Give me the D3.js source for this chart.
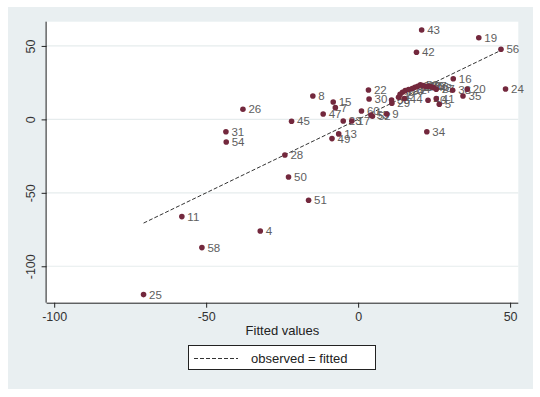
<!DOCTYPE html>
<html>
<head>
<meta charset="utf-8">
<script src="https://cdn.jsdelivr.net/npm/d3@7"></script>
<style>
  body { margin: 0; background: #fff; }
  svg text { font-family: "Liberation Sans", Arial, sans-serif; }
</style>
</head>
<body>
<svg width="540" height="397"></svg>
<script>
// observation ids, fitted values (x) and observed values (y)
var ids = ["25", "11", "58", "31", "54", "26", "4", "28", "50", "45",
  "51", "8", "47", "49", "15", "7", "13", "23", "17", "60",
  "22", "30", "52", "55", "9", "33", "29", "44", "1", "2",
  "6", "10", "12", "14", "18", "21", "53", "32", "36", "37",
  "46", "48", "34", "40", "41", "5", "27", "38", "16", "35",
  "20", "42", "43", "19", "56", "24"];
var fitted = [-70.6, -58.0, -51.4, -43.5, -43.4, -37.9, -32.2, -24.1, -22.9, -21.9,
  -16.3, -14.9, -11.5, -8.6, -8.2, -7.5, -6.4, -4.9, -2.1, 1.1,
  3.4, 3.6, 4.7, 4.2, 9.4, 11.0, 11.1, 15.2, 13.3, 13.8,
  14.6, 15.5, 16.6, 17.8, 18.7, 19.6, 20.5, 21.3, 22.2, 23.1,
  24.0, 24.9, 22.6, 23.0, 25.7, 26.7, 25.7, 31.1, 31.3, 34.5,
  35.9, 19.2, 20.9, 39.7, 47.0, 48.5];
var observed = [-119.3, -66.2, -87.3, -8.4, -15.4, 6.9, -76.0, -24.2, -39.2, -1.3,
  -55.1, 15.9, 3.7, -13.1, 11.8, 8.0, -9.9, -1.1, -1.1, 5.7,
  20.0, 13.9, 2.1, 3.0, 3.7, 13.2, 11.0, 14.2, 15.0, 17.0,
  18.5, 19.6, 20.3, 21.0, 21.8, 22.6, 23.6, 23.0, 22.6, 22.6,
  22.2, 21.6, -8.4, 13.0, 14.1, 10.3, 20.5, 19.8, 27.7, 15.9,
  20.5, 45.7, 60.9, 55.6, 47.7, 20.7];

var xTicks = [-100, -50, 0, 50];
var yTicks = [-100, -50, 0, 50];
var xTitle = "Fitted values";
var legendLabel = "observed = fitted";

var svg = d3.select("svg");

// outer Stata-like background
svg.append("rect")
  .attr("x", 8).attr("y", 7)
  .attr("width", 525).attr("height", 382)
  .attr("fill", "#e9eff1");

var plotLeft = 46.6, plotRight = 518.3, plotTop = 21.7, plotBottom = 302.7;

var x = d3.scaleLinear().domain([-102.5, 52.7]).range([plotLeft, plotRight]);
var y = d3.scaleLinear().domain([-124.8, 66.5]).range([plotBottom, plotTop]);

// plot region
svg.append("rect")
  .attr("x", plotLeft).attr("y", plotTop)
  .attr("width", plotRight - plotLeft).attr("height", plotBottom - plotTop)
  .attr("fill", "#fff");

// horizontal grid lines
svg.selectAll(".grid")
  .data(yTicks)
  .enter().append("line")
  .attr("class", "grid")
  .attr("x1", plotLeft).attr("x2", plotRight)
  .attr("y1", d => y(d)).attr("y2", d => y(d))
  .attr("stroke", "#e6eced")
  .attr("stroke-width", 1.2);

// observed = fitted line, from smallest to largest fitted value
var lo = d3.min(fitted), hi = d3.max(fitted.filter(d => d < 48));
svg.append("line")
  .attr("x1", x(lo)).attr("y1", y(lo))
  .attr("x2", x(hi)).attr("y2", y(hi))
  .attr("stroke", "#333")
  .attr("stroke-width", 1)
  .attr("stroke-dasharray", "4,2");

// axes
var xAxis = svg.append("g")
  .attr("transform", "translate(0," + plotBottom + ")")
  .call(d3.axisBottom(x).tickValues(xTicks).tickSize(5).tickPadding(4).tickFormat(d => String(d)));
xAxis.select(".domain").attr("d", "M" + plotLeft + ",0.5H" + plotRight).attr("stroke", "#222");

var yAxis = svg.append("g")
  .attr("transform", "translate(" + plotLeft + ",0)")
  .call(d3.axisLeft(y).tickValues(yTicks).tickSize(5).tickFormat(d => String(d)));
yAxis.select(".domain").attr("d", "M-0.5," + plotTop + "V" + plotBottom).attr("stroke", "#222");

svg.selectAll(".tick line").attr("stroke", "#222");
xAxis.selectAll("text")
  .attr("font-size", 12.5).attr("fill", "#333");
yAxis.selectAll("text")
  .attr("font-size", 12.5).attr("fill", "#333")
  .attr("text-anchor", "middle")
  .attr("x", 0).attr("dy", 0)
  .attr("transform", "translate(-12,0) rotate(-90)");

// axis title
svg.append("text")
  .attr("x", (plotLeft + plotRight) / 2)
  .attr("y", 335)
  .attr("text-anchor", "middle")
  .attr("font-size", 13)
  .attr("fill", "#222")
  .text(xTitle);

// point labels (drawn first so markers sit on top)
svg.selectAll(".lbl")
  .data(ids)
  .enter().append("text")
  .attr("class", "lbl")
  .attr("x", (d, i) => x(fitted[i]) + 5.5)
  .attr("y", (d, i) => y(observed[i]))
  .attr("dy", "0.36em")
  .attr("font-size", 11.5)
  .attr("fill", "#5e5e5e")
  .text(d => d);

// markers
svg.selectAll(".pt")
  .data(ids)
  .enter().append("circle")
  .attr("class", "pt")
  .attr("cx", (d, i) => x(fitted[i]))
  .attr("cy", (d, i) => y(observed[i]))
  .attr("r", 2.8)
  .attr("fill", "#73283d");

// legend
var lg = svg.append("g");
lg.append("rect")
  .attr("x", 188.5).attr("y", 345.5)
  .attr("width", 187).attr("height", 24)
  .attr("fill", "#fff")
  .attr("stroke", "#222");
lg.append("line")
  .attr("x1", 194).attr("x2", 238)
  .attr("y1", 358.5).attr("y2", 358.5)
  .attr("stroke", "#333")
  .attr("stroke-dasharray", "4,2");
lg.append("text")
  .attr("x", 251).attr("y", 363)
  .attr("font-size", 13)
  .attr("fill", "#222")
  .text(legendLabel);
</script>
</body>
</html>
